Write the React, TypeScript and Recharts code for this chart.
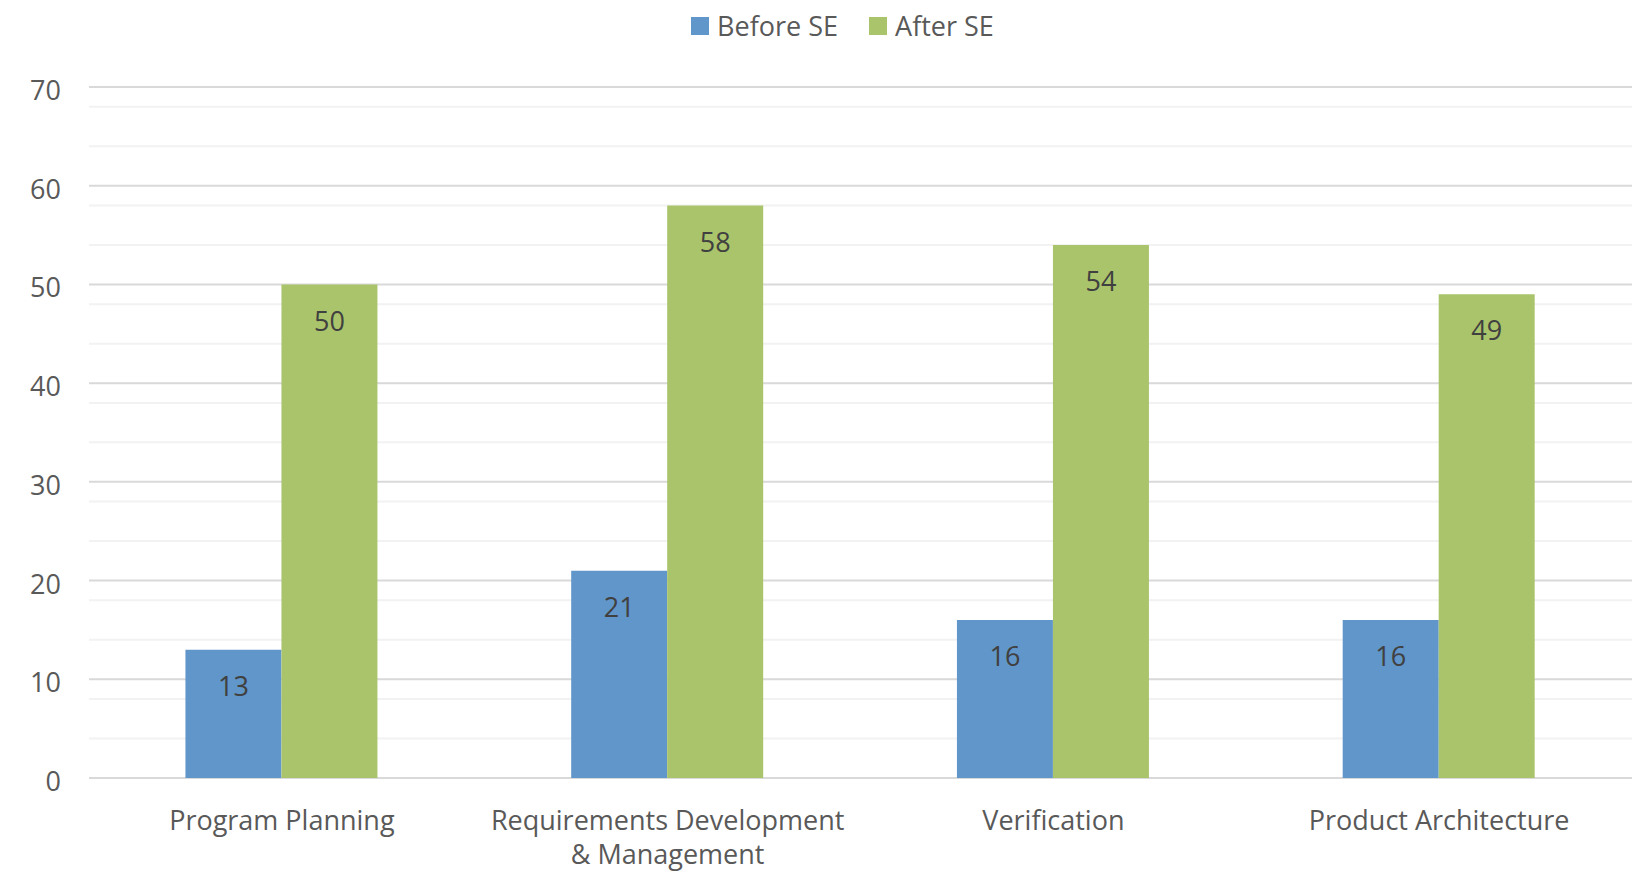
import React from "react";
import {
  BarChart,
  Bar,
  XAxis,
  YAxis,
  CartesianGrid,
  Legend,
  LabelList,
} from "recharts";

const categories = [
  "Program Planning",
  "Requirements Development & Management",
  "Verification",
  "Product Architecture",
];
const beforeSE = [13, 21, 16, 16];
const afterSE = [50, 58, 54, 49];
const yTicks = [0, 10, 20, 30, 40, 50, 60, 70];
const minorGrid = [2, 4, 6, 8, 12, 14, 16, 18, 22, 24, 26, 28, 32, 34, 36, 38, 42, 44, 46, 48, 52, 54, 56, 58, 62, 64, 66, 68];

const seriesNames = { before: "Before SE", after: "After SE" };
const colors = { before: "#6096c9", after: "#aac46b" };

const data = categories.map((name, i) => ({
  name,
  before: beforeSE[i],
  after: afterSE[i],
}));

const FONT = "'Open Sans', 'Noto Sans', sans-serif";
const W = 1639;
const H = 872;

// Wrap a category label into lines of at most maxChars characters.
function wrap(label: string, maxChars: number): string[] {
  const words = label.split(" ");
  const lines: string[] = [];
  let cur = "";
  for (const w of words) {
    const next = cur ? cur + " " + w : w;
    if (next.length > maxChars && cur) {
      lines.push(cur);
      cur = w;
    } else {
      cur = next;
    }
  }
  if (cur) lines.push(cur);
  return lines;
}

const CategoryTick = (props: any) => {
  const { x, y, payload } = props;
  const lines = wrap(String(payload.value), 24);
  return (
    <text
      x={x}
      y={y + 52}
      textAnchor="middle"
      fill="#595959"
      fontSize={27}
      fontFamily={FONT}
    >
      {lines.map((ln, i) => (
        <tspan key={i} x={x} dy={i === 0 ? 0 : 34}>
          {ln}
        </tspan>
      ))}
    </text>
  );
};

const ValueTick = (props: any) => {
  const { y, payload } = props;
  return (
    <text
      x={61}
      y={y + 13}
      textAnchor="end"
      fill="#595959"
      fontSize={27}
      fontFamily={FONT}
    >
      {payload.value}
    </text>
  );
};

const LegendContent = () => {
  const items = [
    { key: "before", label: seriesNames.before, color: colors.before },
    { key: "after", label: seriesNames.after, color: colors.after },
  ];
  return (
    <div
      style={{
        display: "flex",
        justifyContent: "center",
        alignItems: "center",
        fontFamily: FONT,
        fontSize: 27,
        color: "#595959",
        paddingLeft: 46,
      }}
    >
      {items.map((it, i) => (
        <div
          key={it.key}
          style={{
            display: "flex",
            alignItems: "center",
            marginRight: i === 0 ? 31 : 0,
          }}
        >
          <span
            style={{
              display: "inline-block",
              width: 18,
              height: 18,
              background: it.color,
              marginRight: 8,
            }}
          />
          <span style={{ lineHeight: "36px" }}>{it.label}</span>
        </div>
      ))}
    </div>
  );
};

export default function App() {
  return (
    <div
      style={{
        position: "absolute",
        left: 0,
        top: 0,
        width: W,
        height: H,
        background: "#ffffff",
      }}
    >
      <BarChart
        width={W}
        height={H}
        data={data}
        margin={{ top: 87, right: 7, bottom: 0, left: 0 }}
        barCategoryGap="25%"
        barGap={0}
      >
        <CartesianGrid
          vertical={false}
          horizontalValues={minorGrid}
          stroke="#f2f2f2"
          strokeWidth={2}
        />
        <CartesianGrid
          vertical={false}
          horizontalValues={yTicks}
          stroke="#d9d9d9"
          strokeWidth={2}
        />
        <XAxis
          dataKey="name"
          height={94}
          axisLine={false}
          tickLine={false}
          tickSize={0}
          tickMargin={0}
          interval={0}
          tick={<CategoryTick />}
        />
        <YAxis
          width={89}
          domain={[0, 70]}
          ticks={yTicks}
          axisLine={false}
          tickLine={false}
          tickSize={0}
          tick={<ValueTick />}
        />
        <Legend
          layout="horizontal"
          verticalAlign="middle"
          align="center"
          wrapperStyle={{ top: 8, left: 0, width: W }}
          content={<LegendContent />}
        />
        <Bar
          dataKey="before"
          name={seriesNames.before}
          fill={colors.before}
          isAnimationActive={false}
        >
          <LabelList
            dataKey="before"
            position="insideTop"
            offset={27}
            fill="#404040"
            fontSize={27}
            fontFamily={FONT}
          />
        </Bar>
        <Bar
          dataKey="after"
          name={seriesNames.after}
          fill={colors.after}
          isAnimationActive={false}
        >
          <LabelList
            dataKey="after"
            position="insideTop"
            offset={27}
            fill="#404040"
            fontSize={27}
            fontFamily={FONT}
          />
        </Bar>
      </BarChart>
    </div>
  );
}
